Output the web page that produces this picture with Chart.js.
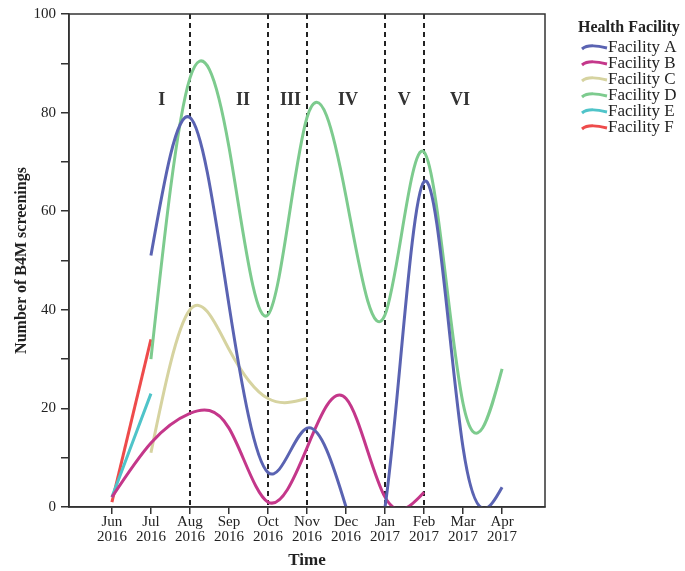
<!DOCTYPE html>
<html>
<head>
<meta charset="utf-8">
<script src="https://cdn.jsdelivr.net/npm/chart.js@4/dist/chart.umd.min.js"></script>
<style>
  html, body { margin: 0; padding: 0; background: #fff; }
  #wrap { width: 685px; height: 571px; }
</style>
</head>
<body>
<div id="wrap"><canvas id="myChart"></canvas></div>
<script>
// months on the x axis (two line tick labels)
const months = [['Jun','2016'],['Jul','2016'],['Aug','2016'],['Sep','2016'],['Oct','2016'],['Nov','2016'],
                ['Dec','2016'],['Jan','2017'],['Feb','2017'],['Mar','2017'],['Apr','2017']];

// screenings per facility, null = no data that month
const facilityA = [null, 51, 79, 41, 7, 16, 0, 0, 66, 12, 4];
const facilityB = [2, 13, 19, 16, 1, 12, 22, 2, 3, null, null];
const facilityC = [null, 11, 40, 32, 22, 22, null, null, null, null, null];
const facilityD = [null, 30, 87, 73, 39, 79, 63, 39, 72, 21, 28];
const facilityE = [2, 23, null, null, null, null, null, null, null, null, null];
const facilityF = [1, 34, null, null, null, null, null, null, null, null, null];

const facilityNames = ['Facility A','Facility B','Facility C','Facility D','Facility E','Facility F'];
const facilityColors = ['#5a63b2','#c4378a','#d6d3a0','#7dcb8e','#4fc4c9','#ee4b4b'];

// phase boundaries (month index) and phase labels
const phaseBreaks = [2, 4, 5, 7, 8];
const phaseNames = ['I','II','III','IV','V','VI'];
const phaseX = [1.28, 3.36, 4.58, 6.05, 7.49, 8.92];
const phaseY = 82.5;

const yTicks = [0, 10, 20, 30, 40, 50, 60, 70, 80, 90, 100];

const serif = '"Liberation Serif", "Times New Roman", serif';

var toPoints = function(arr) {
    const pts = [];
    arr.forEach(function(v, i) {
        if (v !== null) pts.push({ x: i, y: v });
    });
    return pts;
};

const allSeries = [facilityA, facilityB, facilityC, facilityD, facilityE, facilityF];

const datasets = allSeries.map(function(s, i) {
    return {
        label: facilityNames[i],
        data: toPoints(s),
        borderColor: facilityColors[i],
        backgroundColor: facilityColors[i],
        borderWidth: 3,
        pointRadius: 0,
        tension: 0.4,
        fill: false,
        clip: { left: 4, right: 4, top: 4, bottom: 0 }
    };
});

// swap chart.js control points for a natural cubic spline (like the original's smoother)
var naturalSpline = function(pts) {
    const n = pts.length;
    if (n < 2) return;
    const h = [], M = new Array(n).fill(0);
    for (let i = 0; i < n - 1; i++) h.push(pts[i + 1].x - pts[i].x);
    if (n > 2) {
        // tridiagonal solve for second derivatives, M0 = Mn-1 = 0
        const a = [], b = [], c = [], d = [];
        for (let i = 1; i < n - 1; i++) {
            a.push(h[i - 1]);
            b.push(2 * (h[i - 1] + h[i]));
            c.push(h[i]);
            d.push(6 * ((pts[i + 1].y - pts[i].y) / h[i] - (pts[i].y - pts[i - 1].y) / h[i - 1]));
        }
        const m = b.length;
        for (let i = 1; i < m; i++) {
            const w = a[i] / b[i - 1];
            b[i] -= w * c[i - 1];
            d[i] -= w * d[i - 1];
        }
        const sol = new Array(m);
        sol[m - 1] = d[m - 1] / b[m - 1];
        for (let i = m - 2; i >= 0; i--) sol[i] = (d[i] - c[i] * sol[i + 1]) / b[i];
        for (let i = 0; i < m; i++) M[i + 1] = sol[i];
    }
    for (let i = 0; i < n - 1; i++) {
        const p0 = pts[i], p1 = pts[i + 1], hi = h[i];
        const sec = (p1.y - p0.y) / hi;
        const d0 = sec - hi * (2 * M[i] + M[i + 1]) / 6;
        const d1 = sec + hi * (M[i] + 2 * M[i + 1]) / 6;
        p0.cp2x = p0.x + hi / 3;
        p0.cp2y = p0.y + d0 * hi / 3;
        p1.cp1x = p1.x - hi / 3;
        p1.cp1y = p1.y - d1 * hi / 3;
    }
};

const splinePlugin = {
    id: 'naturalSpline',
    beforeDatasetsDraw: function(chart) {
        chart.data.datasets.forEach(function(ds, i) {
            const meta = chart.getDatasetMeta(i);
            const line = meta.dataset;
            if (!line) return;
            line.updateControlPoints(chart.chartArea);
            naturalSpline(line.points);
            line._path = undefined;
        });
    }
};

// frame, dashed phase lines, phase labels and the legend
const extrasPlugin = {
    id: 'extras',
    beforeDatasetsDraw: function(chart) {
        const ctx = chart.ctx;
        const xs = chart.scales.x;
        const area = chart.chartArea;
        ctx.save();
        ctx.strokeStyle = '#222';
        ctx.lineWidth = 2;
        ctx.setLineDash([5, 4]);
        phaseBreaks.forEach(function(b) {
            const px = Math.round(xs.getPixelForValue(b));
            ctx.beginPath();
            ctx.moveTo(px, area.top);
            ctx.lineTo(px, area.bottom);
            ctx.stroke();
        });
        ctx.restore();
    },
    afterDraw: function(chart) {
        const ctx = chart.ctx;
        const xs = chart.scales.x;
        const ys = chart.scales.y;
        const area = chart.chartArea;
        ctx.save();
        // plot frame
        ctx.strokeStyle = '#333';
        ctx.lineWidth = 1.5;
        ctx.strokeRect(area.left, area.top, area.right - area.left, area.bottom - area.top);

        // phase labels
        ctx.fillStyle = '#333';
        ctx.font = 'bold 18px ' + serif;
        ctx.textAlign = 'center';
        ctx.textBaseline = 'middle';
        phaseNames.forEach(function(n, i) {
            ctx.fillText(n, xs.getPixelForValue(phaseX[i]), ys.getPixelForValue(phaseY));
        });

        // legend
        const lx = 578;
        ctx.textAlign = 'left';
        ctx.fillStyle = '#222';
        ctx.font = 'bold 16px ' + serif;
        ctx.fillText('Health Facility', lx, 28);
        ctx.font = '17px ' + serif;
        facilityNames.forEach(function(n, i) {
            const cy = 47 + i * 16;
            ctx.strokeStyle = facilityColors[i];
            ctx.lineWidth = 3;
            ctx.setLineDash([]);
            ctx.beginPath();
            ctx.moveTo(582, cy + 2);
            ctx.bezierCurveTo(588, cy - 3, 598, cy - 1, 607, cy + 1);
            ctx.stroke();
            ctx.fillStyle = '#222';
            ctx.fillText(n, 608, cy + 1);
        });
        ctx.restore();
    }
};

const ctx = document.getElementById('myChart').getContext('2d');
const myChart = new Chart(ctx, {
    type: 'line',
    data: { datasets: datasets },
    options: {
        responsive: true,
        maintainAspectRatio: false,
        animation: false,
        layout: { padding: { left: 0, right: 140, top: 14, bottom: 0 } },
        elements: { line: { capBezierPoints: false } },
        plugins: {
            legend: { display: false },
            tooltip: { enabled: false }
        },
        scales: {
            x: {
                type: 'linear',
                min: -1.1,
                max: 11.1,
                afterBuildTicks: function(scale) {
                    scale.ticks = months.map(function(m, i) { return { value: i }; });
                },
                afterFit: function(scale) { scale.height = 64; },
                grid: { drawOnChartArea: false, drawTicks: true, tickLength: 7, color: '#333', lineWidth: 1.5 },
                border: { display: true, color: '#333', width: 1.5 },
                ticks: {
                    autoSkip: false,
                    maxRotation: 0,
                    padding: 1,
                    color: '#222',
                    font: { family: serif, size: 15, lineHeight: 1.0 },
                    callback: function(v) { return months[v] || ''; }
                },
                title: {
                    display: true,
                    text: 'Time',
                    color: '#222',
                    font: { family: serif, size: 17, weight: 'bold' },
                    padding: { top: 0, bottom: 0 }
                }
            },
            y: {
                min: 0,
                max: 100,
                afterBuildTicks: function(scale) {
                    scale.ticks = yTicks.map(function(v) { return { value: v }; });
                },
                afterFit: function(scale) { scale.width = 69; },
                grid: { drawOnChartArea: false, drawTicks: true, tickLength: 8, color: '#333', lineWidth: 1.5 },
                border: { display: true, color: '#333', width: 1.5 },
                ticks: {
                    padding: 5,
                    color: '#222',
                    font: { family: serif, size: 15 },
                    callback: function(v) { return v % 20 === 0 ? v : ''; }
                },
                title: {
                    display: true,
                    text: 'Number of B4M screenings',
                    color: '#222',
                    font: { family: serif, size: 16, weight: 'bold' },
                    padding: { top: 12, bottom: 0 }
                }
            }
        }
    },
    plugins: [splinePlugin, extrasPlugin]
});
</script>
</body>
</html>
